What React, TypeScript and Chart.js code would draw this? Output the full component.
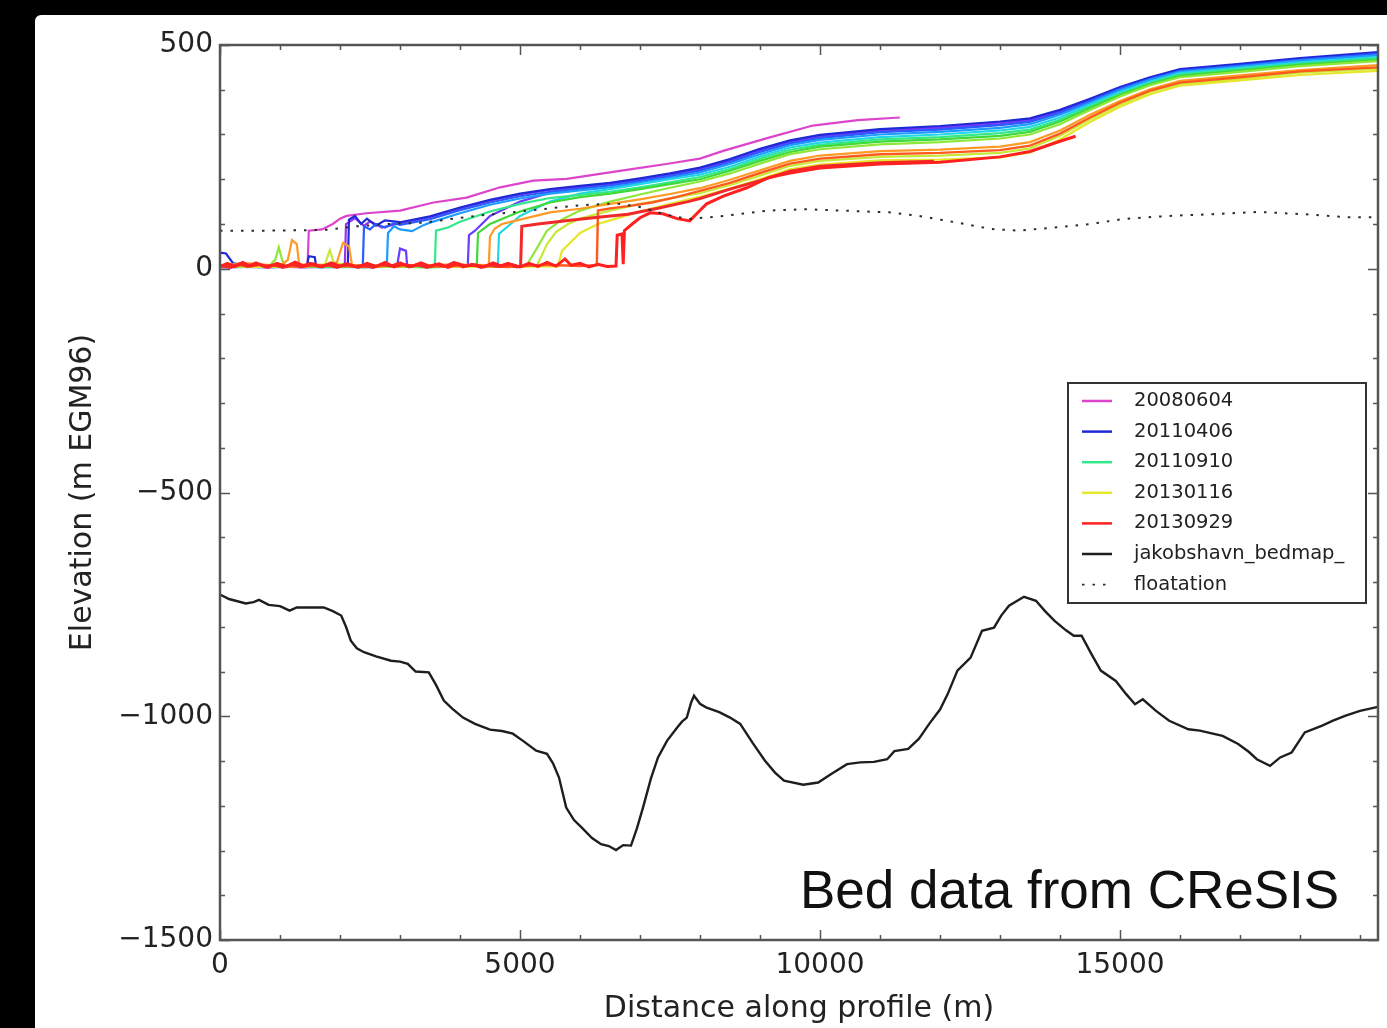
import { useEffect, useRef } from 'react';
import { Chart, registerables } from 'chart.js';

Chart.register(...registerables);

type Pt = [number, number];

// Axis ranges and labelled ticks
const X_MIN = 0;
const X_MAX = 19300;
const Y_MIN = -1500;
const Y_MAX = 500;
const X_TICKS = [0, 5000, 10000, 15000];
const Y_TICKS = [-1500, -1000, -500, 0, 500];
const X_MINOR_STEP = 1000;
const Y_MINOR_STEP = 100;

// Surface elevation profiles (distance m, elevation m), oldest first
const surf20080604: Pt[] = [[0, 6], [400, 4], [900, 8], [1300, 5], [1460, 9], [1480, 85], [1700, 88], [1880, 100], [2000, 112], [2110, 118], [2440, 124], [3000, 130], [3560, 148], [4110, 159], [4670, 182], [5220, 197], [5780, 201], [6330, 212], [6890, 223], [7440, 234], [8000, 246], [8400, 264], [9150, 293], [9880, 320], [10630, 332], [11330, 338]];
const surfViolet: Pt[] = [[0, 4], [700, 6], [1400, 3], [2080, 8], [2100, 100], [2250, 113], [2400, 96], [2500, 106], [2700, 92], [3000, 102], [3500, 115], [4000, 135], [4500, 152], [5000, 166], [5500, 176], [6000, 183], [6500, 190], [7000, 200], [7500, 211], [8000, 224], [8500, 243], [9000, 266], [9500, 285], [10000, 297], [11000, 310], [12000, 317], [13000, 327], [13500, 334], [14000, 353], [14500, 378], [15000, 404], [15500, 426], [16000, 444], [17000, 456], [18000, 469], [19300, 482]];
const surfPurple: Pt[] = [[0, 3], [1000, 5], [2000, 4], [2950, 6], [3000, 45], [3100, 40], [3120, 5], [4130, 8], [4150, 75], [4250, 85], [4500, 118], [5000, 150], [5500, 170], [6000, 181], [6500, 188], [7000, 198], [7500, 209], [8000, 221], [8500, 240], [9000, 263], [9500, 282], [10000, 294], [11000, 307], [12000, 314], [13000, 323], [13500, 331], [14000, 350], [14500, 376], [15000, 403], [15500, 425], [16000, 443], [17000, 455], [18000, 468], [19300, 481]];
const surf20110406: Pt[] = [[0, 36], [100, 34], [220, 12], [600, 5], [1000, 4], [1450, 8], [1480, 28], [1580, 26], [1600, 7], [2000, 6], [2130, 8], [2150, 110], [2250, 118], [2350, 100], [2450, 112], [2600, 96], [2750, 108], [3000, 104], [3500, 117], [4000, 137], [4500, 154], [5000, 168], [5500, 178], [6000, 185], [6500, 192], [7000, 202], [7500, 213], [8000, 226], [8500, 245], [9000, 268], [9500, 287], [10000, 299], [11000, 312], [12000, 319], [13000, 329], [13500, 336], [14000, 355], [14500, 380], [15000, 406], [15500, 428], [16000, 446], [17000, 458], [18000, 471], [19300, 484]];
const surfBlue: Pt[] = [[0, 5], [800, 3], [1500, 6], [2380, 7], [2400, 95], [2500, 88], [2600, 100], [2750, 92], [2900, 102], [3000, 98], [3500, 111], [4000, 131], [4500, 148], [5000, 162], [5500, 172], [6000, 179], [6500, 186], [7000, 196], [7500, 207], [8000, 219], [8500, 238], [9000, 261], [9500, 280], [10000, 292], [11000, 305], [12000, 311], [13000, 321], [13500, 328], [14000, 348], [14500, 375], [15000, 402], [15500, 424], [16000, 442], [17000, 454], [18000, 467], [19300, 480]];
const surfSky: Pt[] = [[0, 4], [900, 6], [1700, 3], [2780, 6], [2800, 80], [2900, 95], [3000, 88], [3200, 84], [3400, 98], [3500, 103], [4000, 124], [4500, 143], [5000, 157], [5500, 168], [6000, 175], [6500, 182], [7000, 192], [7500, 203], [8000, 215], [8500, 234], [9000, 256], [9500, 276], [10000, 288], [11000, 300], [12000, 306], [13000, 315], [13500, 323], [14000, 344], [14500, 371], [15000, 399], [15500, 422], [16000, 440], [17000, 452], [18000, 465], [19300, 477]];
const surfCyan: Pt[] = [[0, 6], [700, 4], [1500, 5], [2400, 3], [3300, 6], [4200, 4], [4630, 6], [4650, 78], [4800, 95], [5000, 118], [5500, 150], [6000, 168], [6500, 178], [7000, 189], [7500, 200], [8000, 210], [8500, 228], [9000, 251], [9500, 271], [10000, 282], [11000, 294], [12000, 300], [13000, 309], [13500, 317], [14000, 338], [14500, 367], [15000, 395], [15500, 418], [16000, 437], [17000, 449], [18000, 461], [19300, 473]];
const surf20110910: Pt[] = [[0, 5], [800, 4], [1600, 7], [2500, 4], [3580, 6], [3600, 85], [3800, 92], [4000, 105], [4500, 128], [5000, 145], [5500, 158], [6000, 165], [6500, 172], [7000, 182], [7500, 193], [8000, 205], [8500, 223], [9000, 246], [9500, 266], [10000, 277], [11000, 289], [12000, 294], [13000, 303], [13500, 311], [14000, 333], [14500, 363], [15000, 391], [15500, 415], [16000, 434], [17000, 446], [18000, 458], [19300, 470]];
const surfGreen: Pt[] = [[0, 4], [900, 7], [1700, 4], [2600, 6], [3500, 3], [4280, 7], [4300, 80], [4500, 100], [5000, 128], [5500, 148], [6000, 160], [6500, 168], [7000, 178], [7500, 189], [8000, 200], [8500, 219], [9000, 241], [9500, 261], [10000, 273], [11000, 284], [12000, 289], [13000, 297], [13500, 306], [14000, 329], [14500, 359], [15000, 388], [15500, 413], [16000, 431], [17000, 443], [18000, 456], [19300, 467]];
const surfLime: Pt[] = [[0, 7], [800, 4], [920, 20], [980, 48], [1040, 18], [1100, 5], [2000, 6], [3000, 4], [4000, 7], [5100, 5], [5300, 50], [5450, 85], [5700, 110], [6000, 130], [6500, 150], [7000, 166], [7500, 181], [8000, 195], [8500, 213], [9000, 235], [9500, 256], [10000, 267], [11000, 278], [12000, 283], [13000, 291], [13500, 300], [14000, 323], [14500, 355], [15000, 385], [15500, 410], [16000, 428], [17000, 440], [18000, 453], [19300, 464]];
const surfChartreuse: Pt[] = [[0, 5], [700, 8], [1400, 4], [1750, 10], [1830, 42], [1900, 12], [2500, 5], [3500, 7], [4500, 4], [5280, 6], [5450, 55], [5600, 82], [5800, 100], [6000, 112], [6500, 130], [7000, 145], [7500, 157], [8000, 169], [8500, 187], [9000, 208], [9500, 230], [10000, 241], [11000, 250], [12000, 253], [13000, 259], [13500, 269], [14000, 297], [14500, 334], [15000, 367], [15500, 395], [16000, 413], [17000, 425], [18000, 438], [19300, 447]];
const surf20130116: Pt[] = [[0, 6], [800, 4], [1600, 8], [2400, 5], [3200, 7], [4000, 4], [4800, 6], [5630, 5], [5700, 40], [6000, 80], [6300, 100], [6600, 112], [7000, 128], [7500, 145], [8000, 161], [8500, 179], [9000, 200], [9500, 222], [10000, 233], [11000, 242], [12000, 244], [13000, 249], [13500, 260], [14000, 289], [14500, 328], [15000, 362], [15500, 390], [16000, 409], [17000, 421], [18000, 433], [19300, 442]];
const surfOrange: Pt[] = [[0, 8], [500, 12], [1000, 6], [1130, 20], [1200, 64], [1280, 55], [1320, 10], [1800, 8], [1950, 15], [2050, 58], [2150, 50], [2200, 8], [3000, 6], [3800, 9], [4480, 8], [4500, 72], [4580, 90], [4700, 100], [4950, 108], [5500, 126], [6000, 134], [6500, 145], [7000, 155], [7500, 167], [8000, 180], [8500, 199], [9000, 220], [9500, 241], [10000, 253], [11000, 263], [12000, 266], [13000, 273], [13500, 283], [14000, 309], [14500, 344], [15000, 375], [15500, 401], [16000, 420], [17000, 432], [18000, 444], [19300, 455]];
const surfOrangeRed: Pt[] = [[0, 6], [600, 9], [1200, 5], [1800, 7], [2400, 4], [3000, 8], [3600, 5], [4200, 7], [4800, 4], [5400, 9], [6000, 6], [6280, 8], [6300, 130], [6500, 135], [6800, 140], [7200, 148], [7600, 160], [8000, 174], [8500, 192], [9000, 214], [9500, 235], [10000, 246], [11000, 256], [12000, 259], [13000, 265], [13500, 275], [14000, 302], [14500, 338], [15000, 371], [15500, 398], [16000, 416], [17000, 428], [18000, 441], [19300, 450]];
const surfRed: Pt[] = [[0, 7], [180, 3], [320, 11], [460, 5], [600, 13], [760, 4], [900, 9], [1050, 3], [1200, 10], [1350, 4], [1500, 12], [1650, 5], [1800, 9], [1950, 3], [2100, 11], [2250, 5], [2400, 8], [2550, 3], [2700, 10], [2850, 6], [3000, 13], [3150, 4], [3300, 9], [3450, 3], [3600, 10], [3750, 5], [3900, 14], [4050, 4], [4200, 10], [4350, 3], [4500, 9], [4650, 5], [4800, 12], [4950, 4], [5010, 6], [5030, 95], [5300, 100], [5800, 108], [6300, 115], [6800, 122], [7300, 135], [7800, 150], [8000, 157], [8500, 178], [9000, 197], [9500, 218], [10000, 229], [11000, 237], [11900, 240]];
const surf20130929: Pt[] = [[0, 4], [120, 12], [250, 5], [380, 14], [500, 6], [650, 10], [800, 3], [950, 12], [1100, 5], [1250, 15], [1400, 6], [1550, 11], [1700, 4], [1850, 13], [2000, 6], [2150, 10], [2300, 3], [2450, 12], [2600, 5], [2750, 14], [2900, 4], [3050, 10], [3200, 6], [3350, 13], [3500, 5], [3650, 11], [3800, 3], [3950, 12], [4100, 6], [4250, 9], [4400, 4], [4550, 13], [4700, 6], [4850, 10], [5000, 4], [5150, 12], [5300, 5], [5450, 14], [5600, 6], [5750, 22], [5850, 8], [6000, 12], [6150, 4], [6300, 10], [6450, 5], [6600, 6], [6620, 75], [6700, 78], [6720, 10], [6740, 85], [6870, 100], [7000, 114], [7170, 125], [7380, 123], [7620, 112], [7830, 107], [7960, 125], [8110, 145], [8400, 163], [8780, 181], [9150, 204], [9500, 214], [10000, 225], [11000, 234], [12000, 238], [13000, 250], [13500, 262], [14000, 285], [14260, 296]];

// Bed topography along the profile
const bedmap: Pt[] = [[0, -728], [150, -738], [430, -748], [560, -745], [650, -740], [810, -751], [1000, -754], [1160, -764], [1280, -757], [1500, -757], [1730, -757], [1880, -765], [2020, -775], [2100, -800], [2180, -831], [2280, -848], [2400, -857], [2600, -866], [2850, -876], [3000, -878], [3130, -883], [3260, -900], [3480, -902], [3600, -930], [3730, -965], [3870, -983], [4050, -1003], [4250, -1017], [4500, -1030], [4700, -1033], [4880, -1039], [5050, -1055], [5270, -1077], [5450, -1084], [5550, -1105], [5650, -1137], [5770, -1204], [5900, -1232], [6030, -1249], [6200, -1272], [6350, -1286], [6480, -1290], [6600, -1299], [6720, -1288], [6850, -1289], [6950, -1250], [7050, -1204], [7180, -1140], [7300, -1092], [7450, -1055], [7620, -1025], [7700, -1012], [7780, -1003], [7850, -970], [7900, -954], [8000, -972], [8100, -980], [8320, -991], [8500, -1003], [8670, -1017], [8880, -1060], [9080, -1099], [9250, -1126], [9400, -1144], [9720, -1153], [9970, -1148], [10200, -1128], [10450, -1107], [10670, -1103], [10900, -1102], [11120, -1096], [11240, -1078], [11470, -1073], [11650, -1050], [11820, -1017], [12000, -985], [12130, -950], [12290, -898], [12510, -869], [12700, -809], [12900, -802], [13020, -775], [13150, -753], [13400, -733], [13600, -742], [13750, -765], [13910, -787], [14100, -808], [14230, -820], [14360, -820], [14520, -860], [14680, -898], [14930, -921], [15100, -950], [15250, -973], [15380, -962], [15600, -988], [15820, -1010], [16140, -1029], [16330, -1032], [16710, -1044], [16970, -1062], [17150, -1080], [17280, -1096], [17500, -1111], [17670, -1092], [17860, -1081], [18080, -1036], [18370, -1021], [18550, -1010], [18750, -999], [19000, -988], [19300, -979]];

// Surface height at which ice would float over the bed
const floatation: Pt[] = [[0, 85], [700, 85], [1300, 86], [1800, 87], [2200, 94], [2800, 100], [3400, 103], [3900, 112], [4400, 120], [5000, 128], [5500, 135], [6000, 142], [6600, 146], [7000, 138], [7400, 122], [7800, 111], [8400, 118], [9150, 130], [9750, 133], [10350, 130], [11150, 126], [11650, 118], [12250, 104], [12850, 89], [13300, 85], [13900, 92], [14500, 100], [15050, 111], [15800, 118], [16550, 122], [17300, 127], [18050, 122], [18800, 115], [19300, 115]];

const FONT = '"DejaVu Sans", sans-serif';
const AXIS_COLOR = '#555555';
const TEXT_COLOR = '#222222';

interface Series { label: string; color: string; data: Pt[]; width: number; dash?: number[] }

const surfaceSeries: Series[] = [
  { label: '20080604', color: '#dd44cc', data: surf20080604, width: 2.2 },
  { label: '', color: '#9933ee', data: surfViolet, width: 2.2 },
  { label: '', color: '#6a3cff', data: surfPurple, width: 2.2 },
  { label: '20110406', color: '#1f2ad6', data: surf20110406, width: 2.2 },
  { label: '', color: '#2a5cff', data: surfBlue, width: 2.2 },
  { label: '', color: '#1e9bff', data: surfSky, width: 2.2 },
  { label: '', color: '#22d6e6', data: surfCyan, width: 2.2 },
  { label: '20110910', color: '#33e88a', data: surf20110910, width: 2.2 },
  { label: '', color: '#3fd93a', data: surfGreen, width: 2.2 },
  { label: '', color: '#8ee83a', data: surfLime, width: 2.2 },
  { label: '', color: '#c6ea3a', data: surfChartreuse, width: 2.2 },
  { label: '20130116', color: '#e6e62a', data: surf20130116, width: 2.2 },
  { label: '', color: '#ff9a26', data: surfOrange, width: 2.2 },
  { label: '', color: '#ff5a1e', data: surfOrangeRed, width: 2.4 },
  { label: '', color: '#f02a2a', data: surfRed, width: 3 },
  { label: '20130929', color: '#ff2020', data: surf20130929, width: 3 },
];

const allSeries: Series[] = [
  ...surfaceSeries,
  { label: 'jakobshavn_bedmap_', color: '#1e1e1e', data: bedmap, width: 2.4 },
  { label: 'floatation', color: '#2a2a2a', data: floatation, width: 2, dash: [2.5, 8] },
];

const fmtMinus = (v: number) => (v < 0 ? '\u2212' + Math.abs(v) : String(v));

// Frame, inward ticks on all four sides, legend box and caption
const overlayPlugin = {
  id: 'overlay',
  afterDraw(chart: any) {
    const { ctx, chartArea: a, scales } = chart;
    const xs = scales.x;
    const ys = scales.y;
    ctx.save();

    ctx.strokeStyle = AXIS_COLOR;
    ctx.lineWidth = 1.5;
    ctx.beginPath();
    for (let v = X_MIN; v <= X_MAX; v += X_MINOR_STEP) {
      const px = Math.round(xs.getPixelForValue(v)) + 0.5;
      const len = X_TICKS.includes(v) ? 10 : 5;
      ctx.moveTo(px, a.bottom); ctx.lineTo(px, a.bottom - len);
      ctx.moveTo(px, a.top); ctx.lineTo(px, a.top + len);
    }
    for (let v = Y_MIN; v <= Y_MAX; v += Y_MINOR_STEP) {
      const py = Math.round(ys.getPixelForValue(v)) + 0.5;
      const len = Y_TICKS.includes(v) ? 10 : 5;
      ctx.moveTo(a.left, py); ctx.lineTo(a.left + len, py);
      ctx.moveTo(a.right, py); ctx.lineTo(a.right - len, py);
    }
    ctx.stroke();

    ctx.lineWidth = 2.5;
    ctx.strokeStyle = AXIS_COLOR;
    ctx.strokeRect(a.left, a.top, a.right - a.left, a.bottom - a.top);

    // legend
    const entries = chart.data.datasets.filter((d: any) => d.label);
    const bx = 1033, by = 368, bw = 298, bh = 220;
    ctx.fillStyle = '#ffffff';
    ctx.fillRect(bx, by, bw, bh);
    ctx.lineWidth = 2;
    ctx.strokeStyle = '#333333';
    ctx.strokeRect(bx, by, bw, bh);
    ctx.font = `19.5px ${FONT}`;
    ctx.textBaseline = 'middle';
    ctx.textAlign = 'left';
    entries.forEach((d: any, i: number) => {
      const cy = by + 18 + i * 30.6;
      ctx.strokeStyle = d.borderColor;
      ctx.lineWidth = d.borderDash && d.borderDash.length ? 1.8 : 2.5;
      ctx.setLineDash(d.borderDash || []);
      ctx.beginPath();
      ctx.moveTo(bx + 14, cy);
      ctx.lineTo(bx + 44, cy);
      ctx.stroke();
      ctx.setLineDash([]);
      ctx.fillStyle = TEXT_COLOR;
      ctx.fillText(d.label, bx + 66, cy);
    });

    // caption
    ctx.fillStyle = '#111111';
    ctx.font = '53px "Liberation Sans", Arial, sans-serif';
    ctx.textBaseline = 'alphabetic';
    ctx.textAlign = 'left';
    ctx.fillText('Bed data from CReSIS', 765, 893);
    ctx.restore();
  },
};

export default function App() {
  const canvasRef = useRef<HTMLCanvasElement | null>(null);

  useEffect(() => {
    document.body.style.margin = '0';
    document.body.style.background = '#000';
    const canvas = canvasRef.current;
    if (!canvas) return;

    const n = allSeries.length;
    const chart = new Chart(canvas, {
      type: 'line',
      data: {
        datasets: allSeries.map((s, i) => ({
          label: s.label,
          data: s.data,
          borderColor: s.color,
          backgroundColor: s.color,
          borderWidth: s.width,
          borderDash: s.dash || [],
          pointRadius: 0,
          tension: 0,
          fill: false,
          order: n - i,
        })),
      },
      options: {
        responsive: false,
        animation: false,
        events: [],
        layout: { padding: { top: 30, right: 9, left: 0, bottom: 0 } },
        plugins: { legend: { display: false }, tooltip: { enabled: false } },
        scales: {
          x: {
            type: 'linear',
            min: X_MIN,
            max: X_MAX,
            grid: { display: false, drawTicks: false },
            border: { display: false },
            afterBuildTicks: (s: any) => { s.ticks = X_TICKS.map((v) => ({ value: v })); },
            afterFit: (s: any) => { s.height = 88; },
            ticks: { font: { family: FONT, size: 28 }, color: TEXT_COLOR, padding: 9, maxRotation: 0, callback: (v: any) => fmtMinus(Number(v)) },
            title: { display: true, text: 'Distance along profile (m)', font: { family: FONT, size: 30 }, color: TEXT_COLOR, padding: { top: 0, bottom: 1 } },
          },
          y: {
            type: 'linear',
            min: Y_MIN,
            max: Y_MAX,
            grid: { display: false, drawTicks: false },
            border: { display: false },
            afterBuildTicks: (s: any) => { s.ticks = Y_TICKS.map((v) => ({ value: v })); },
            afterFit: (s: any) => { s.width = 185; },
            ticks: { font: { family: FONT, size: 28 }, color: TEXT_COLOR, padding: 7, callback: (v: any) => fmtMinus(Number(v)) },
            title: { display: true, text: 'Elevation (m EGM96)', font: { family: FONT, size: 30 }, color: TEXT_COLOR, padding: { top: 30, bottom: 0 } },
          },
        },
      },
      plugins: [overlayPlugin],
    } as any);

    return () => chart.destroy();
  }, []);

  return (
    <div style={{ position: 'relative', width: 1387, height: 1028, background: '#000', overflow: 'hidden' }}>
      <div style={{ position: 'absolute', left: 35, top: 15, width: 1352, height: 1013, background: '#fff', borderTopLeftRadius: 6 }}>
        <canvas ref={canvasRef} width={1352} height={1013} />
      </div>
    </div>
  );
}
